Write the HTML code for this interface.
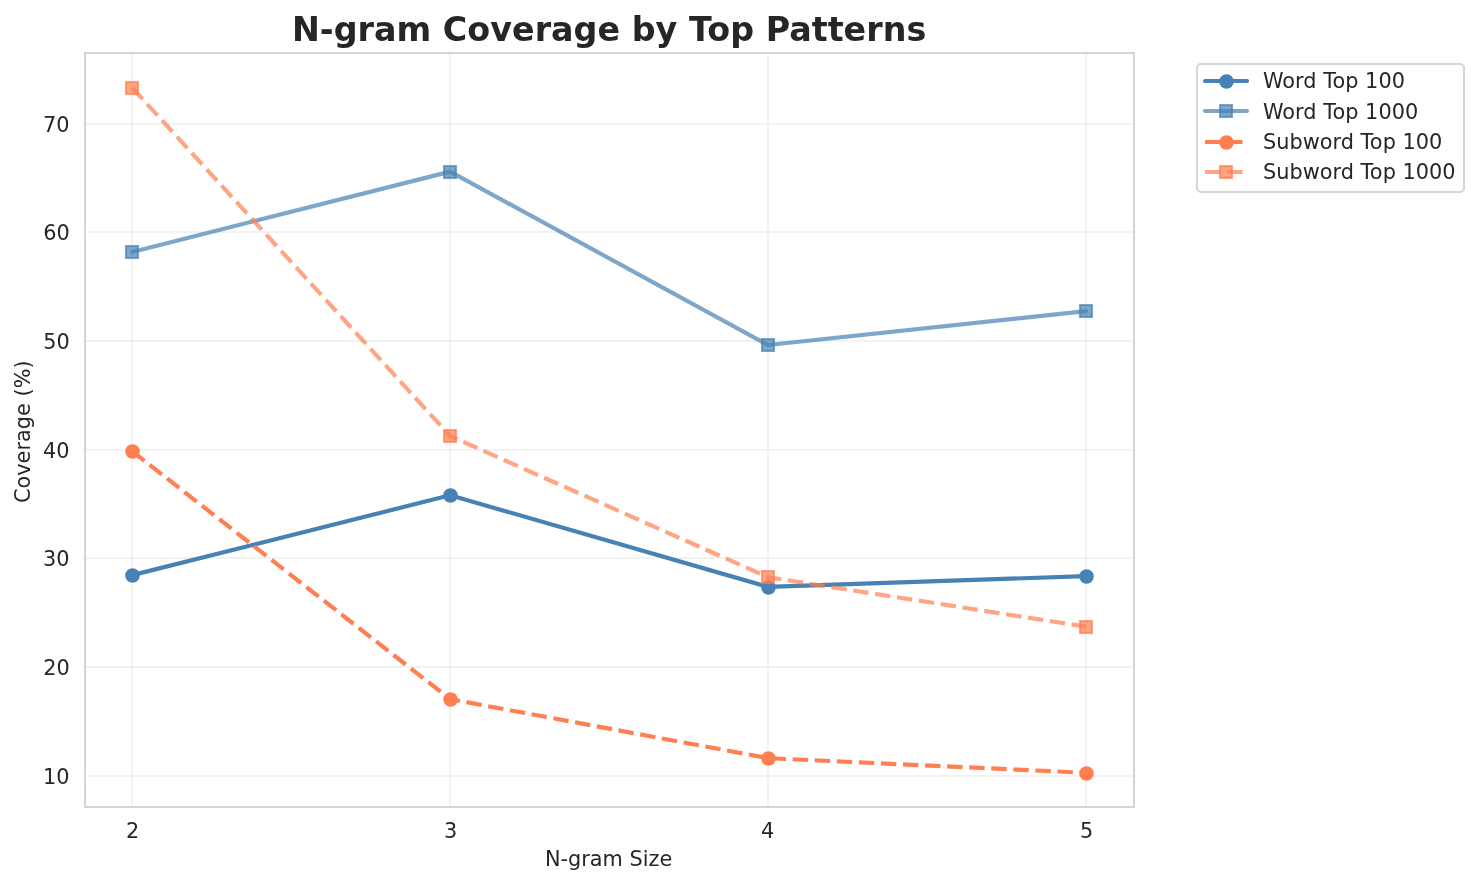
<!DOCTYPE html>
<html lang="en">
<head>
<meta charset="utf-8">
<title>N-gram Coverage by Top Patterns</title>
<style>
html,body{margin:0;padding:0;background:#ffffff;}
body{width:1479px;height:885px;overflow:hidden;}
svg{display:block;}
text{white-space:pre;}
</style>
</head>
<body>
<svg width="1479" height="885" viewBox="0 0 1479 885">
<defs><clipPath id="axclip"><rect x="84.54" y="53.5" width="1049.1" height="753.58"/></clipPath></defs>
<rect x="0" y="0" width="1479" height="885" fill="#ffffff"/>
<g id="grid" stroke="#cccccc" stroke-opacity="0.3" stroke-width="1.67" fill="none">
<line x1="132" y1="53.5" x2="132" y2="807.08"/>
<line x1="450" y1="53.5" x2="450" y2="807.08"/>
<line x1="768" y1="53.5" x2="768" y2="807.08"/>
<line x1="1086" y1="53.5" x2="1086" y2="807.08"/>
<line x1="85" y1="776" x2="1134" y2="776" stroke-opacity="0.34"/>
<line x1="85" y1="667" x2="1134" y2="667" stroke-opacity="0.34"/>
<line x1="85" y1="558" x2="1134" y2="558" stroke-opacity="0.34"/>
<line x1="85" y1="450" x2="1134" y2="450" stroke-opacity="0.34"/>
<line x1="85" y1="341" x2="1134" y2="341" stroke-opacity="0.34"/>
<line x1="85" y1="232" x2="1134" y2="232" stroke-opacity="0.34"/>
<line x1="85" y1="124" x2="1134" y2="124" stroke-opacity="0.34"/>
</g>
<g id="series" clip-path="url(#axclip)">
<polyline points="132.23,575.13 450.14,495.27 768.05,586.93 1085.96,576.14" fill="none" stroke="#4682b4" stroke-width="4.17" stroke-linejoin="round" stroke-linecap="round"/>
<circle cx="132.5" cy="575.5" r="6.25" fill="#4682b4" stroke="#4682b4" stroke-width="2.08"/>
<circle cx="450.5" cy="495.5" r="6.25" fill="#4682b4" stroke="#4682b4" stroke-width="2.08"/>
<circle cx="768.5" cy="587.5" r="6.25" fill="#4682b4" stroke="#4682b4" stroke-width="2.08"/>
<circle cx="1086.5" cy="576.5" r="6.25" fill="#4682b4" stroke="#4682b4" stroke-width="2.08"/>
<polyline points="132.23,251.99 450.14,171.63 768.05,345.04 1085.96,311.18" fill="none" stroke="#4682b4" stroke-width="4.17" stroke-linejoin="round" stroke-opacity="0.7" stroke-linecap="round"/>
<rect x="126" y="246" width="12" height="12" fill="#4682b4" stroke="#4682b4" stroke-width="2.08" stroke-linejoin="miter" fill-opacity="0.7" stroke-opacity="0.7"/>
<rect x="444" y="166" width="12" height="12" fill="#4682b4" stroke="#4682b4" stroke-width="2.08" stroke-linejoin="miter" fill-opacity="0.7" stroke-opacity="0.7"/>
<rect x="762" y="339" width="12" height="12" fill="#4682b4" stroke="#4682b4" stroke-width="2.08" stroke-linejoin="miter" fill-opacity="0.7" stroke-opacity="0.7"/>
<rect x="1080" y="305" width="12" height="12" fill="#4682b4" stroke="#4682b4" stroke-width="2.08" stroke-linejoin="miter" fill-opacity="0.7" stroke-opacity="0.7"/>
<polyline points="132.23,451.3 450.14,699.13 768.05,758.13 1085.96,772.83" fill="none" stroke="#ff7f50" stroke-width="4.17" stroke-linejoin="round" stroke-dasharray="15.42 6.67" stroke-linecap="butt"/>
<circle cx="132.5" cy="451.5" r="6.25" fill="#ff7f50" stroke="#ff7f50" stroke-width="2.08"/>
<circle cx="450.5" cy="699.5" r="6.25" fill="#ff7f50" stroke="#ff7f50" stroke-width="2.08"/>
<circle cx="768.5" cy="758.5" r="6.25" fill="#ff7f50" stroke="#ff7f50" stroke-width="2.08"/>
<circle cx="1086.5" cy="773.5" r="6.25" fill="#ff7f50" stroke="#ff7f50" stroke-width="2.08"/>
<polyline points="132.23,87.75 450.14,436.03 768.05,577.23 1085.96,626.66" fill="none" stroke="#ff7f50" stroke-width="4.17" stroke-linejoin="round" stroke-opacity="0.7" stroke-dasharray="15.42 6.67" stroke-linecap="butt"/>
<rect x="126" y="82" width="12" height="12" fill="#ff7f50" stroke="#ff7f50" stroke-width="2.08" stroke-linejoin="miter" fill-opacity="0.7" stroke-opacity="0.7"/>
<rect x="444" y="430" width="12" height="12" fill="#ff7f50" stroke="#ff7f50" stroke-width="2.08" stroke-linejoin="miter" fill-opacity="0.7" stroke-opacity="0.7"/>
<rect x="762" y="571" width="12" height="12" fill="#ff7f50" stroke="#ff7f50" stroke-width="2.08" stroke-linejoin="miter" fill-opacity="0.7" stroke-opacity="0.7"/>
<rect x="1080" y="621" width="12" height="12" fill="#ff7f50" stroke="#ff7f50" stroke-width="2.08" stroke-linejoin="miter" fill-opacity="0.7" stroke-opacity="0.7"/>
</g>
<rect id="spines" x="85" y="53" width="1049" height="754" fill="none" stroke="#cccccc" stroke-width="1.67"/>
<g id="labels" font-family="'DejaVu Sans', 'Liberation Sans', sans-serif" fill="#262626">
<text x="42.96 56.24" y="783.73" font-size="20.83">10</text>
<text x="43.21 56.49" y="674.58" font-size="20.83">20</text>
<text x="42.96 56.24" y="565.93" font-size="20.83">30</text>
<text x="42.96 56.24" y="457.78" font-size="20.83">40</text>
<text x="43.21 56.49" y="348.63" font-size="20.83">50</text>
<text x="43.33 56.61" y="239.98" font-size="20.83">60</text>
<text x="42.96 56.24" y="131.83" font-size="20.83">70</text>
<text x="126.1" y="837.67" font-size="20.83">2</text>
<text x="444.01" y="837.67" font-size="20.83">3</text>
<text x="760.92" y="837.67" font-size="20.83">4</text>
<text x="1080.08" y="837.67" font-size="20.83">5</text>
<text x="609.09" y="40.5" font-size="33.33" text-anchor="middle" font-weight="bold" textLength="634.38" lengthAdjust="spacing">N-gram Coverage by Top Patterns</text>
<text x="608.59" y="865.5" font-size="20.83" text-anchor="middle">N-gram Size</text>
<text transform="translate(29.5,431.79) rotate(-90)" x="-71.31 -56.74 -43.97 -31.61 -18.77 -10.19 2.61 15.86 28.7 35.34 43.48 63.31" y="0" font-size="20.83">Coverage (%)</text>
</g>
<g id="legend">
<rect x="1197" y="64" width="267" height="128" rx="4" ry="4" fill="#ffffff" fill-opacity="0.8" stroke="#cccccc" stroke-opacity="0.8" stroke-width="2.08"/>
<line x1="1205" y1="81" x2="1247" y2="81" fill="none" stroke="#4682b4" stroke-width="4.17" stroke-linecap="round"/>
<circle cx="1226.5" cy="81.5" r="6.25" fill="#4682b4" stroke="#4682b4" stroke-width="2.08"/>
<line x1="1205" y1="111" x2="1247" y2="111" fill="none" stroke="#4682b4" stroke-width="4.17" stroke-opacity="0.7" stroke-linecap="round"/>
<rect x="1220" y="105" width="12" height="12" fill="#4682b4" stroke="#4682b4" stroke-width="2.08" stroke-linejoin="miter" fill-opacity="0.7" stroke-opacity="0.7"/>
<line x1="1205" y1="142" x2="1247" y2="142" fill="none" stroke="#ff7f50" stroke-width="4.17" stroke-dasharray="15.42 6.67" stroke-linecap="butt"/>
<circle cx="1226.5" cy="142.5" r="6.25" fill="#ff7f50" stroke="#ff7f50" stroke-width="2.08"/>
<line x1="1205" y1="172" x2="1247" y2="172" fill="none" stroke="#ff7f50" stroke-width="4.17" stroke-opacity="0.7" stroke-dasharray="15.42 6.67" stroke-linecap="butt"/>
<rect x="1220" y="166" width="12" height="12" fill="#ff7f50" stroke="#ff7f50" stroke-width="2.08" stroke-linejoin="miter" fill-opacity="0.7" stroke-opacity="0.7"/>
<g font-family="'DejaVu Sans', 'Liberation Sans', sans-serif" fill="#262626">
<text x="1262.93 1282.32 1295.1 1303.3 1316.55 1323.19 1332.44 1345.21 1358.46 1365.1 1378.38 1391.66" y="87.75" font-size="20.83">Word Top 100</text>
<text x="1262.93 1282.32 1295.1 1303.3 1316.55 1323.19 1332.44 1345.21 1358.46 1365.1 1378.38 1391.66 1404.94" y="118.67" font-size="20.83">Word Top 1000</text>
<text x="1262.93 1276.19 1289.42 1302.67 1319.74 1332.51 1340.72 1353.97 1360.6 1369.86 1382.63 1395.88 1402.51 1415.8 1429.08" y="148.58" font-size="20.83">Subword Top 100</text>
<text x="1262.93 1276.19 1289.42 1302.67 1319.74 1332.51 1340.72 1353.97 1360.6 1369.86 1382.63 1395.88 1402.51 1415.8 1429.08 1442.36" y="178.5" font-size="20.83">Subword Top 1000</text>
</g></g>
</svg>
</body>
</html>
